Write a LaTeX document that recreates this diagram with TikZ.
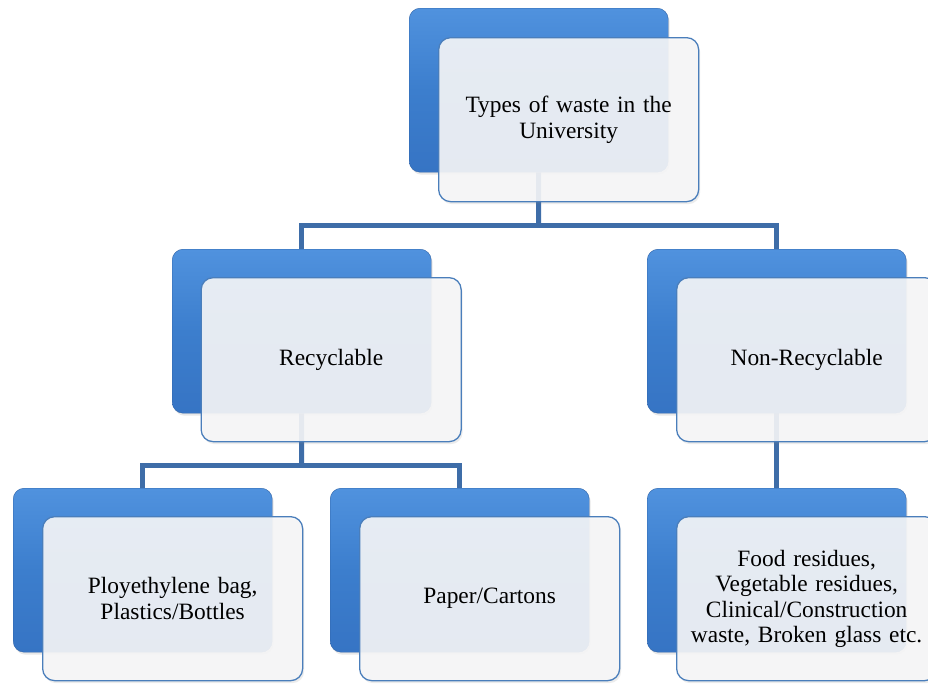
\documentclass[tikz,border=0pt]{standalone}
\usepackage{fontspec}
\setmainfont{Liberation Serif}
\usetikzlibrary{shadows,backgrounds}
\definecolor{bluetop}{RGB}{80,146,222}
\definecolor{bluemid}{RGB}{60,126,205}
\definecolor{bluebot}{RGB}{54,116,196}
\definecolor{blueedge}{RGB}{48,100,168}
\definecolor{wfill}{RGB}{247,247,248}
\definecolor{wedge}{RGB}{74,126,187}
\definecolor{conncol}{RGB}{62,109,168}
\tikzset{
  backbox/.style={rectangle, rounded corners=11pt, minimum width=259pt, minimum height=164pt,
    anchor=north west, top color=bluetop, bottom color=bluebot, middle color=bluemid,
    draw=blueedge, line width=0.4pt,
    drop shadow={opacity=0.18, shadow xshift=1.5pt, shadow yshift=-2.5pt}},
  frontbox/.style={rectangle, rounded corners=12pt, minimum width=260pt, minimum height=164pt,
    anchor=north west, fill=wfill, fill opacity=0.9, text opacity=1, draw=wedge, draw opacity=1,
    line width=1.3pt, align=center, text width=240pt,
    font=\fontsize{23.4}{25.5}\selectfont,
    drop shadow={opacity=0.15, shadow xshift=1.5pt, shadow yshift=-2.5pt}},
  conn/.style={draw=conncol, line width=5pt}
}
\begin{document}
\begin{tikzpicture}[x=1pt,y=-1pt]
\useasboundingbox (0,0) rectangle (928,683);
\clip (0,0) rectangle (928,683);
% top
\node[backbox] (tB) at (409,8) {};
\node[frontbox] (t) at (438,37) {Types of waste in the\\University};
% level 2
\node[backbox] (rB) at (172,249) {};
\node[frontbox] (r) at (200.5,277) {Recyclable};
\node[backbox] (nB) at (647,249) {};
\node[frontbox] (n) at (676,277) {Non-Recyclable};
% level 3
\node[backbox] (aB) at (13,488) {};
\node[frontbox] (a) at (42,516) {Ployethylene bag,\\Plastics/Bottles};
\node[backbox] (bB) at (330,488) {};
\node[frontbox] (b) at (359,516) {Paper/Cartons};
\node[backbox] (cB) at (647,488) {};
\node[frontbox] (c) at (676,516) {Food residues,\\Vegetable residues,\\Clinical/Construction\\waste, Broken glass etc.};
\coordinate (j1) at (538.5,225);
\coordinate (j2) at (301.5,465);
\begin{scope}[on background layer]
\fill[white] (0,0) rectangle (928,683);
\draw[conn] (tB.south) -- (j1);
\draw[conn] (rB.north) |- (j1) -| (nB.north);
\draw[conn] (rB.south) -- (j2);
\draw[conn] (aB.north) |- (j2) -| (bB.north);
\draw[conn] (nB.south) -- (cB.north);
\end{scope}
\end{tikzpicture}
\end{document}
